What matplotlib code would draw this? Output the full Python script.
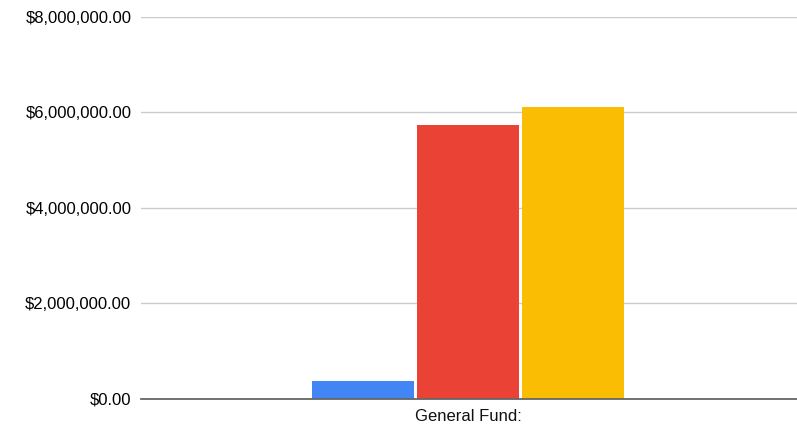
import matplotlib.pyplot as plt
from matplotlib.ticker import FuncFormatter

plt.rcParams["font.family"] = ["Liberation Sans", "DejaVu Sans"]

# data
category = "General Fund:"
series_names = ["Series A", "Series B", "Series C"]
values = [383000, 5735000, 6105000]
colors = ["#4285F4", "#EA4335", "#FBBC04"]
yticks = [0, 2000000, 4000000, 6000000, 8000000]

fig = plt.figure(figsize=(7.97, 4.30), dpi=100)
ax = fig.add_axes([141 / 797, 1 - 399 / 430, 656 / 797, (399 - 16.8) / 430])

positions = [-1, 0, 1]
ax.bar(positions, values, width=0.97, color=colors, zorder=3)

ax.set_xlim(-327 / 105, (656 - 327) / 105)
ax.set_ylim(0, 8000000)
ax.set_yticks(yticks)
ax.yaxis.set_major_formatter(FuncFormatter(lambda v, p: f"${v:,.2f}"))
ax.set_xticks([0])
ax.set_xticklabels([category])

ax.grid(axis="y", color="#cccccc", linewidth=1, zorder=0)
ax.tick_params(axis="y", length=0, pad=7, labelsize=12, labelcolor="#000000")
ax.tick_params(axis="x", length=0, pad=7, labelsize=12, labelcolor="#111111")

for s in ["top", "right", "left"]:
    ax.spines[s].set_visible(False)
ax.spines["bottom"].set_color("#666666")
ax.spines["bottom"].set_linewidth(1.3)
ax.spines["bottom"].set_zorder(4)

fig.savefig("out.png", dpi=100)
